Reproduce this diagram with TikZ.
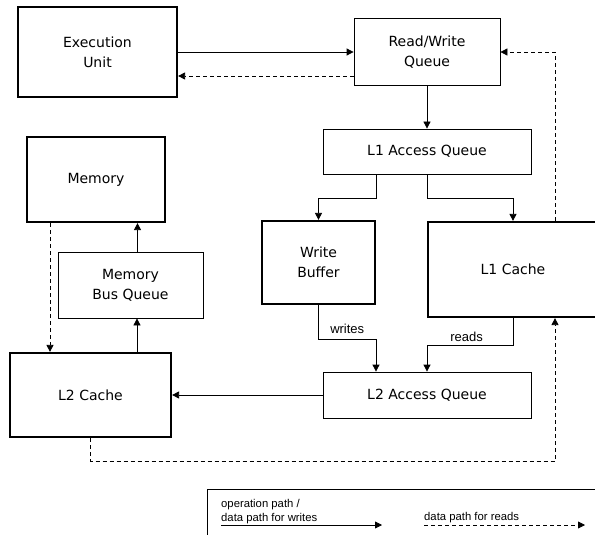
\documentclass[tikz,border=0pt]{standalone}
\usepackage{fontspec}
\setmainfont{DejaVu Sans}
\newfontfamily\lblfont{Liberation Sans}
\usetikzlibrary{arrows.meta}

\tikzset{
  unit/.style={rectangle,draw=black,line width=0.8pt,inner sep=0pt,align=center,
    font=\fontsize{14}{20}\selectfont},
  bigunit/.style={unit,line width=2.2pt},
  flow/.style={line width=0.8pt,-{Triangle[length=7pt,width=7pt]}},
  rdflow/.style={flow,dash pattern=on 4pt off 3pt},
  lbl/.style={font=\lblfont\fontsize{13}{15}\selectfont,inner sep=0pt},
  lgd/.style={font=\lblfont\fontsize{11.3}{14}\selectfont,inner sep=0pt,align=left}
}

\begin{document}
\begin{tikzpicture}[x=1pt,y=-1pt]
        \useasboundingbox (0,0) rectangle (595,535);

        \node[bigunit,minimum width=159pt,minimum height=90pt] (exec) at ( 97.5, 52.0) {Execution\\Unit};
        \node[unit,minimum width=146pt,minimum height=67pt]    (rwq)  at (427.0, 52.0) {Read/Write\\Queue};
        \node[unit,minimum width=208pt,minimum height=45pt]    (l1q)  at (427.0,151.5) {L1 Access Queue};
        \node[bigunit,minimum width=138pt,minimum height=85pt] (mem)  at ( 96.0,179.5) {Memory};
        \node[unit,minimum width=145pt,minimum height=66pt]    (mbq)  at (130.5,285.0) {Memory\\Bus Queue};
        \node[bigunit,minimum width=113pt,minimum height=83pt] (wbuf) at (318.5,262.5) {Write\\Buffer};
        \node[bigunit,minimum width=170pt,minimum height=95pt] (l1c)  at (513.0,269.5) {L1 Cache};
        \node[bigunit,minimum width=161pt,minimum height=84pt] (l2c)  at ( 90.5,395.0) {L2 Cache};
        \node[unit,minimum width=208pt,minimum height=46pt]    (l2aq) at (427.0,395.0) {L2 Access Queue};

        \draw[flow]   (exec.east) -- (rwq.west);
        \draw[rdflow] ([yshift=-24pt]rwq.west) -- ([yshift=-24pt]exec.east);
        \draw[rdflow] ([xshift=42pt]l1c.north) |- (rwq.east);
        \draw[flow]   (rwq.south) -- (l1q.north);
        \draw[flow]   ([xshift=-51pt]l1q.south) -- ++(0,24) -| (wbuf.north);
        \draw[flow]   (l1q.south) -- ++(0,24) -| (l1c.north);
        \draw[flow]   (wbuf.south) -- ++(0,34) -| node[lbl,pos=0.25,above=5pt] {writes} ([xshift=-51pt]l2aq.north);
        \draw[flow]   (l1c.south) -- ++(0,27) -| node[lbl,pos=0.27,above=3pt] {reads} (l2aq.north);
        \draw[flow]   (l2aq.west) -- (l2c.east);
        \draw[flow]   ([xshift=46.5pt]l2c.north) -- ([xshift=46.5pt]l2c.north |- mbq.south);
        \draw[flow]   ([xshift=7pt]mbq.north) -- ([xshift=7pt]mbq.north |- mem.south);
        \draw[rdflow] ([xshift=-46pt]mem.south) -- ([xshift=-46pt]mem.south |- l2c.north);
        \draw[rdflow] (l2c.south) -- ++(0,23) -| ([xshift=42pt]l1c.south);

        % legend
        \draw[line width=0.8pt] (207,489) rectangle (620,560);
        \node[lgd,anchor=base west] (lgw1) at (221,507) {operation path /};
        \node[lgd,anchor=base west] (lgw2) at (221,521) {data path for writes};
        \node[lgd,anchor=base west] (lgr)  at (424,520) {data path for reads};
        \coordinate (lwa) at (221,525);
        \coordinate (lwb) at (382,525);
        \coordinate (lra) at (424,525);
        \coordinate (lrb) at (585,525);
        \draw[flow]   (lwa) -- (lwb);
        \draw[rdflow] (lra) -- (lrb);
      \end{tikzpicture}
\end{document}
